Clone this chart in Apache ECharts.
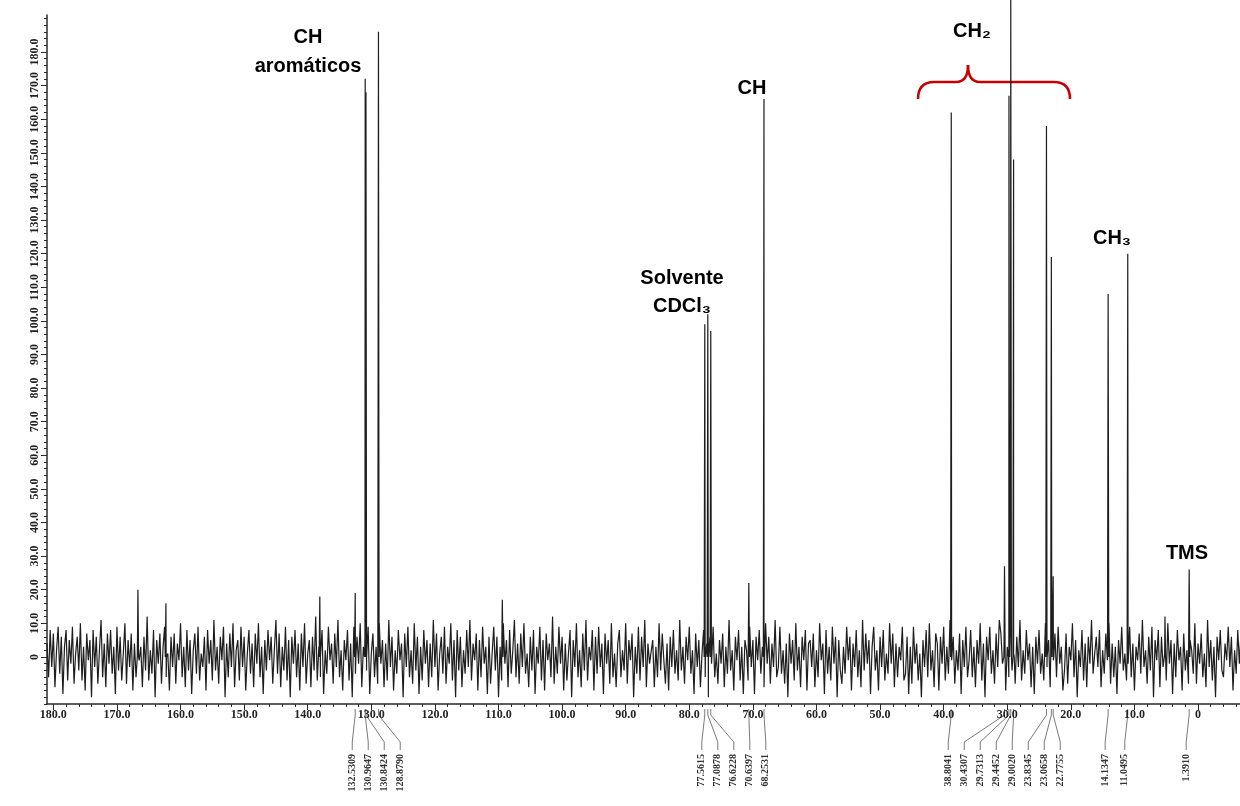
<!DOCTYPE html>
<html>
<head>
<meta charset="utf-8">
<script src="https://cdn.jsdelivr.net/npm/echarts@6/dist/echarts.min.js"></script>
<style>
  html, body { margin: 0; padding: 0; background: #ffffff; }
  #chart { width: 1240px; height: 806px; }
</style>
</head>
<body>
<div id="chart"></div>
<script>
// 13C NMR spectrum (CDCl3), chemical shift in ppm vs. intensity

// Axis tick values
const xMajorTicks = [0, 10, 20, 30, 40, 50, 60, 70, 80, 90, 100, 110, 120, 130, 140, 150, 160, 170, 180];
const yMajorTicks = [0, 10, 20, 30, 40, 50, 60, 70, 80, 90, 100, 110, 120, 130, 140, 150, 160, 170, 180];

// Picked peaks, grouped as printed under the axis (ppm and intensity)
const peakShift = [
  [132.5309, 130.9647, 130.8424, 128.8790],
  [77.5615, 77.0878, 76.6228, 70.6397, 68.2531],
  [38.8041, 30.4307, 29.7313, 29.4452, 29.0020, 23.8345, 23.0658, 22.7755],
  [14.1347],
  [11.0495],
  [1.3910]
];
const peakHeight = [
  [19, 172, 168, 186],
  [99, 102, 97, 22, 166],
  [162, 27, 167, 196, 148, 158, 119, 24],
  [108],
  [120],
  [26]
];

// Unlabelled small spikes rising out of the baseline
const spikeShift = [166.7, 162.3, 138.1, 109.4, 5.2];
const spikeHeight = [20, 16, 18, 17, 12];

// Baseline noise, one sample every 0.25 ppm from 181 ppm downfield to upfield;
// the low-field half is in noiseLow, the high-field half in noiseHigh
const noiseStart = 181;
const noiseStep = 0.25;
const noiseLow = [
  4,-6,8,-3,7,-9,2,9,-5,6,-11,3,8,-7,5,-2,9,-8,1,6,
  -4,10,-7,3,-10,7,-1,5,-12,8,-3,6,-8,2,11,-6,4,-9,7,-2,
  8,-5,3,-11,9,-4,6,-7,1,10,-8,5,-3,7,-10,4,-6,9,-1,3,
  -9,6,-4,12,-7,2,-5,8,-12,5,-2,7,-8,3,9,-6,1,-10,6,-3,
  7,-8,4,-1,10,-6,3,-9,8,-4,5,-11,2,7,-5,9,-7,1,-3,6,
  -10,8,-2,5,-7,11,-4,3,-8,6,-1,9,-12,4,-6,7,-3,10,-9,2,
  5,-7,9,-3,6,-10,1,8,-5,4,-9,7,-2,10,-6,3,-11,5,-4,8,
  -1,6,-8,2,11,-5,7,-9,3,-4,9,-7,5,-12,6,-2,8,-6,4,-10,
  7,-3,10,-8,1,5,-9,6,-4,12,-7,3,-6,8,-11,2,-5,9,-1,4,
  -8,7,-3,11,-6,2,-10,5,-1,8,-7,4,-12,9,-5,6,-2,10,-9,3,
  6,-4,9,-11,1,7,-6,3,-8,10,-2,5,-9,4,-7,11,-3,6,-10,2,
  -5,8,-1,4,-12,7,-3,9,-6,2,-8,10,-4,6,-11,3,-7,8,-2,5,
  -9,4,-6,11,-3,7,-10,1,6,-5,9,-8,3,-2,10,-7,5,-12,8,-4,
  6,-9,2,-5,8,-3,11,-7,4,-1,7,-10,5,-6,9,-2,3,-11,6,-8,
  1,9,-4,6,-12,3,-7,10,-2,5,-9,8,-5,2,11,-6,4,-8,7,-3,
  10,-5,1,-9,6,-4,8,-11,3,-2,9,-7,5,-10,7,-1,4,-6,12,-8,
  3,-5,9,-2,6,-10,4,-7,1,8,-12,5,-3,10,-6,2,-9,7,-4,11,
  -7,3,-1,8,-10,6,-5,9,-3,4,-11,7,-2,5,-8,10,-6,1,-9,4,
  8,-6,2,-4,10,-8,5,-1,7,-12,3,-5,9,-7,6,-3,11,-9,4,-2
];
const noiseHigh = [
  -2,5,-9,3,-6,10,-4,7,-1,-8,4,-10,6,-3,8,-5,2,-7,11,-4,
  3,-8,6,-1,9,-5,2,-11,7,-3,5,-9,1,8,-6,4,-12,6,-2,9,
  -6,1,-8,5,-2,7,-9,3,-5,11,-4,2,-10,6,-1,8,-7,3,-11,5,
  2,-7,9,-3,5,-11,6,-1,8,-5,3,-9,10,-2,6,-8,4,-3,11,-6,
  -3,9,-5,2,-8,4,-12,7,-2,5,-7,10,-4,3,-9,6,-1,8,-10,4,
  5,-3,7,-9,2,-6,10,-1,4,-11,8,-5,3,-7,9,-2,6,-12,5,-4,
  -8,3,-5,9,-1,6,-10,4,-3,8,-6,2,-9,11,-4,7,-2,5,-11,3,
  9,-4,2,-10,6,-3,8,-7,1,-5,10,-2,7,-9,4,-6,3,-1,9,-7,
  -5,6,-11,3,-8,9,-2,4,-7,1,-12,5,-3,8,-6,10,-4,2,-9,7,
  4,-10,6,-2,9,-7,3,-5,11,-1,6,-8,2,-4,7,-11,5,-3,9,-6,
  -1,8,-6,3,-9,5,-2,10,-7,4,-12,6,-1,9,-5,2,-8,7,-3,11,
  7,-2,5,-10,3,-6,9,-4,1,-8,6,-3,11,-7,2,-5,8,-1,4,-9,
  3,-11,6,-2,8,-5,1,-7,10,-3,5,-9,4,-1,7,-6,9,-2,3,-10,
  -4,7,-8,3,-1,10,-6,5,-12,2,-3,8,-7,4,-9,6,-2,11,-5,1,
  6,-3,8,-9,2,-5,7,-1,10,-8,4,-6,3,-11,5,-2,9,-4,1,-7,
  -2,9,-6,4,-10,3,-1,7,-5,11,-3,2,-8,6,-4,9,-12,5,-1,8,
  -9,6,-3,1,-7,10,-2,5,-11,4,-6,8,-1,3,-10,7,-4,2,-8,5,
  2,-5,10,-8,4,-2,7,-6,1,-9,11,-3,5,-7,3,-12,6,-1,8,-4,
  -6,4,-1,9,-3,6,-10,2,-5,8,-2,7,-11,4,-7,3,-9,10,-3,6
];

// Assemble one continuous trace: noise samples plus narrow peak spikes
function buildTrace() {
  const pts = noiseLow.concat(noiseHigh).map((v, i) => [noiseStart - i * noiseStep, v]);
  const addSpike = (p, h) => {
    pts.push([p + 0.1, 0], [p, h], [p - 0.1, 0]);
  };
  peakShift.forEach((g, gi) => g.forEach((p, i) => addSpike(p, peakHeight[gi][i])));
  spikeShift.forEach((p, i) => addSpike(p, spikeHeight[i]));
  pts.sort((a, b) => b[0] - a[0]);
  return pts;
}

function minorValues(from, to, step) {
  const out = [];
  for (let v = from; v <= to + 1e-9; v += step) out.push(Math.round(v * 10) / 10);
  return out;
}

const tickFont = { fontFamily: '"Liberation Serif", "DejaVu Serif", serif', fontWeight: 'bold', fontSize: 12, color: '#222' };
const axisColor = '#2a2a2a';
const fmt = v => (v === 0 ? '0' : v.toFixed(1));

const X_MIN = -6.6, X_MAX = 181;
const Y_MIN = -14, Y_MAX = 191;

const chart = echarts.init(document.getElementById('chart'), null, { renderer: 'canvas' });

chart.setOption({
  animation: false,
  backgroundColor: '#ffffff',
  grid: { left: 47, right: 0, top: 15, bottom: 102 },
  xAxis: [
    {
      type: 'value', inverse: true, min: X_MIN, max: X_MAX, position: 'bottom',
      axisLine: { onZero: false, lineStyle: { color: axisColor, width: 1.5 } },
      axisTick: { customValues: xMajorTicks, length: 6, lineStyle: { color: axisColor, width: 1 } },
      axisLabel: Object.assign({ customValues: xMajorTicks, formatter: fmt, margin: 5 }, tickFont),
      splitLine: { show: false }
    },
    {
      type: 'value', inverse: true, min: X_MIN, max: X_MAX, position: 'bottom',
      axisLine: { show: false, onZero: false },
      axisTick: { customValues: minorValues(-6, 180, 2), length: 3, lineStyle: { color: axisColor, width: 1 } },
      axisLabel: { show: false },
      splitLine: { show: false }
    }
  ],
  yAxis: [
    {
      type: 'value', min: Y_MIN, max: Y_MAX, position: 'left',
      axisLine: { show: true, onZero: false, lineStyle: { color: axisColor, width: 1.5 } },
      axisTick: { show: true, customValues: yMajorTicks, length: 6, lineStyle: { color: axisColor, width: 1 } },
      axisLabel: Object.assign({ customValues: yMajorTicks, formatter: fmt, rotate: 90, margin: 6 }, tickFont),
      splitLine: { show: false }
    },
    {
      type: 'value', min: Y_MIN, max: Y_MAX, position: 'left',
      axisLine: { show: false, onZero: false },
      axisTick: { show: true, customValues: minorValues(-14, 190, 2), length: 3, lineStyle: { color: axisColor, width: 1 } },
      axisLabel: { show: false },
      splitLine: { show: false }
    }
  ],
  series: [
    {
      type: 'line',
      xAxisIndex: 0, yAxisIndex: 0,
      data: buildTrace(),
      symbol: 'none',
      clip: false,
      lineStyle: { color: '#1e1e1e', width: 1.2 },
      z: 3
    }
  ]
});

// Peak-pick labels under the axis with leader lines, plus assignment annotations
function decorate() {
  const els = [];
  const axisY = chart.convertToPixel({ yAxisIndex: 0 }, Y_MIN);
  const gap = 16;
  const labelFont = 'bold 10px "Liberation Serif", "DejaVu Serif", serif';

  peakShift.forEach(group => {
    const xs = group.map(p => chart.convertToPixel({ xAxisIndex: 0 }, p));
    const start = xs[0] - 3;
    group.forEach((p, i) => {
      const px = xs[i];
      const lx = start + i * gap;
      els.push({
        type: 'polyline', silent: true,
        shape: { points: [[px, axisY + 5], [px, axisY + 11], [lx, axisY + 38], [lx, axisY + 46]] },
        style: { stroke: '#7a7a7a', lineWidth: 1, fill: 'none' }
      });
      els.push({
        type: 'text', silent: true,
        x: lx, y: axisY + 50, rotation: Math.PI / 2,
        style: { text: p.toFixed(4), font: labelFont, fill: '#333', align: 'right', verticalAlign: 'middle' }
      });
    });
  });

  const annFont = 'bold 20px "Liberation Sans", Arial, sans-serif';
  const ann = (text, x, y) => els.push({
    type: 'text', silent: true, x, y,
    style: { text, font: annFont, fill: '#000', align: 'center', verticalAlign: 'middle' }
  });
  ann('CH', 308, 37);
  ann('aromáticos', 308, 66);
  ann('Solvente', 682, 278);
  ann('CDCl\u2083', 682, 306);
  ann('CH', 752, 88);
  ann('CH\u2082', 972, 31);
  ann('CH\u2083', 1112, 238);
  ann('TMS', 1187, 553);

  // red brace spanning the CH2 signals
  const braceStyle = { stroke: '#c40000', lineWidth: 2.5, fill: 'none' };
  const curve = (x1, y1, cx, cy, x2, y2) => els.push({
    type: 'bezierCurve', silent: true,
    shape: { x1, y1, cpx1: cx, cpy1: cy, x2, y2 }, style: braceStyle
  });
  const seg = (x1, y1, x2, y2) => els.push({
    type: 'line', silent: true, shape: { x1, y1, x2, y2 }, style: braceStyle
  });
  curve(918, 99, 918, 82, 934, 82);
  seg(934, 82, 956, 82);
  curve(956, 82, 968, 82, 968, 65);
  curve(968, 65, 968, 82, 980, 82);
  seg(980, 82, 1054, 82);
  curve(1054, 82, 1070, 82, 1070, 99);

  chart.setOption({ graphic: els });
}
decorate();
</script>
</body>
</html>
